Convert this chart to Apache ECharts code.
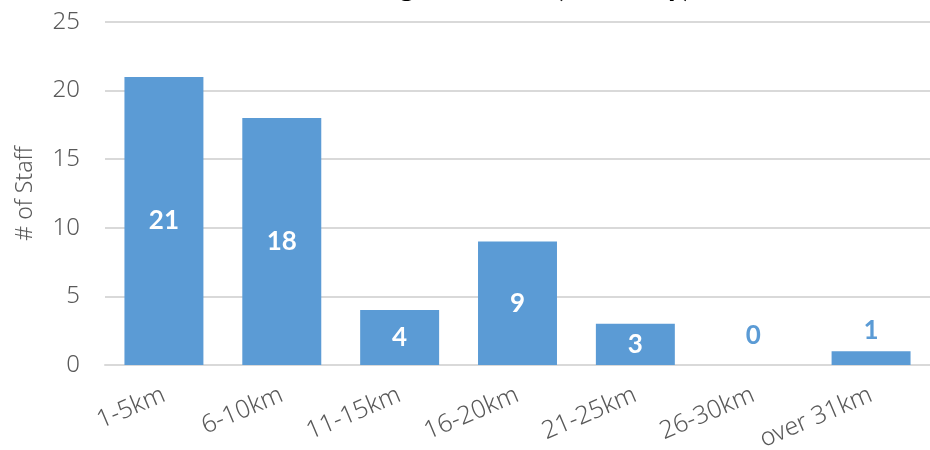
<!DOCTYPE html>
<html>
<head>
<meta charset="utf-8">
<script src="https://cdn.jsdelivr.net/npm/echarts@6/dist/echarts.min.js"></script>
<style>html,body{margin:0;padding:0;background:#fff}#c{width:930px;height:450px}</style>
</head>
<body>
<div id="c"></div>
<script>
var categories = ['1-5km', '6-10km', '11-15km', '16-20km', '21-25km', '26-30km', 'over 31km'];
var staffCounts = [21, 18, 4, 9, 3, 0, 1];
var yTicks = [0, 5, 10, 15, 20, 25];
var titleText = 'Commuting Distance (one way)';
var yAxisName = '# of Staff';

var AXIS_FONT = '"Noto Sans", "DejaVu Sans", sans-serif';
var LABEL_FONT = 'Lato, "Noto Sans", sans-serif';
var BLUE = '#5b9bd5';

var seriesData = staffCounts.map(function (v) {
  if (v <= 1) {
    return {
      value: v,
      label: { position: 'top', color: BLUE, distance: v === 0 ? 16 : 8 }
    };
  }
  return { value: v };
});

var chart = echarts.init(document.getElementById('c'), null, { renderer: 'canvas' });
chart.setOption({
  animation: false,
  backgroundColor: '#fff',
  graphic: [{
    type: 'text',
    x: 470,
    y: 2,
    style: {
      text: titleText,
      align: 'center',
      verticalAlign: 'bottom',
      fontFamily: LABEL_FONT,
      fontSize: 32,
      fontWeight: 'bold',
      fill: '#000'
    }
  }],
  grid: { left: 105, right: 0, top: 22, bottom: 85, outerBoundsMode: 'none', containLabel: false },
  xAxis: {
    type: 'category',
    data: categories,
    axisTick: { show: false },
    axisLine: { lineStyle: { color: '#d9d9d9', width: 2 } },
    axisLabel: { rotate: 23, fontFamily: AXIS_FONT, fontWeight: 300, fontSize: 25, color: '#595959', margin: 29, interval: 0 }
  },
  yAxis: {
    type: 'value',
    min: yTicks[0],
    max: yTicks[yTicks.length - 1],
    interval: 5,
    name: yAxisName,
    nameLocation: 'middle',
    nameGap: 68,
    nameRotate: 90,
    nameTextStyle: { fontFamily: AXIS_FONT, fontWeight: 300, fontSize: 23, color: '#595959' },
    axisLine: { show: false },
    axisTick: { show: false },
    splitLine: { lineStyle: { color: '#d9d9d9', width: 2 } },
    axisLabel: { fontFamily: AXIS_FONT, fontWeight: 300, fontSize: 24, color: '#595959', margin: 25 }
  },
  series: [{
    type: 'bar',
    data: seriesData,
    barCategoryGap: '33%',
    itemStyle: { color: BLUE },
    label: {
      show: true,
      position: 'inside',
      color: '#fff',
      fontFamily: LABEL_FONT,
      fontSize: 26,
      fontWeight: 'bold'
    }
  }]
});
</script>
</body>
</html>
